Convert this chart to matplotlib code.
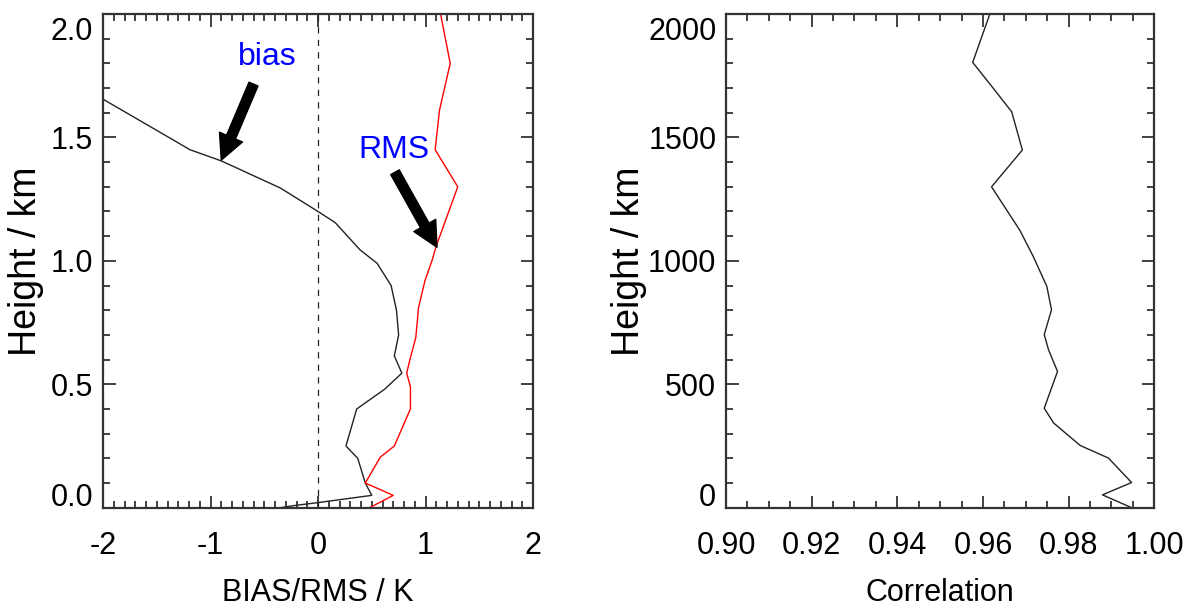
import numpy as np
import matplotlib
matplotlib.use("Agg")
import matplotlib.pyplot as plt
from matplotlib.ticker import MultipleLocator
from matplotlib.transforms import ScaledTranslation

# left panel: bias and RMS profiles (K) vs height (km)
bias_h = [1.655, 1.45, 1.405, 1.295, 1.20, 1.155, 1.045, 0.99, 0.90, 0.80, 0.70,
          0.615, 0.545, 0.48, 0.40, 0.25, 0.20, 0.10, 0.05, 0.02, 0.01, 0.0]
bias_v = [-2.0, -1.19, -0.90, -0.35, 0.0, 0.16, 0.39, 0.55, 0.68, 0.73, 0.75,
          0.71, 0.78, 0.62, 0.36, 0.26, 0.37, 0.44, 0.50, -0.01, -0.20, -0.35]
rms_h = [2.0, 1.80, 1.61, 1.45, 1.30, 1.06, 1.0, 0.92, 0.81, 0.69, 0.60, 0.545,
         0.49, 0.40, 0.25, 0.205, 0.10, 0.05, 0.0]
rms_v = [1.14, 1.23, 1.13, 1.09, 1.30, 1.10, 1.06, 0.995, 0.935, 0.91, 0.855, 0.825,
         0.86, 0.86, 0.71, 0.58, 0.44, 0.70, 0.48]

# right panel: correlation vs height (m)
corr_h = [2000, 1804, 1708, 1604, 1449, 1300, 1124, 1019, 897, 802, 701, 640,
          552, 403, 343, 252, 201, 102, 52, 0]
corr_v = [0.9616, 0.9576, 0.9620, 0.9667, 0.9692, 0.9620, 0.9686, 0.9717, 0.9749,
          0.9760, 0.9743, 0.9753, 0.9774, 0.9743, 0.9765, 0.9827, 0.9893, 0.9947,
          0.9879, 0.9947]

left_xticks = [-2, -1, 0, 1, 2]
left_yticks = [0.0, 0.5, 1.0, 1.5, 2.0]
right_xticks = [0.90, 0.92, 0.94, 0.96, 0.98, 1.00]
right_yticks = [0, 500, 1000, 1500, 2000]

font = ["Liberation Sans", "DejaVu Sans"]
tsize = 22

fig = plt.figure(figsize=(11.92, 6.13), dpi=100)
ax1 = fig.add_axes([103 / 1192, 1 - 507.7 / 613, 430 / 1192, 493.7 / 613])
ax2 = fig.add_axes([726 / 1192, 1 - 507.7 / 613, 428.3 / 1192, 493.7 / 613])


def style(ax, xmin, xmax, xmaj, xmin_step, ymin, ymax, ymaj, ymin_step):
    ax.set_xlim(xmin, xmax)
    ax.set_ylim(ymin, ymax)
    ax.xaxis.set_major_locator(MultipleLocator(xmaj))
    ax.xaxis.set_minor_locator(MultipleLocator(xmin_step))
    ax.yaxis.set_major_locator(MultipleLocator(ymaj))
    ax.yaxis.set_minor_locator(MultipleLocator(ymin_step))
    ax.tick_params(which="both", direction="in", top=True, right=True,
                   width=1.3, color="#333333")
    ax.tick_params(which="major", length=9)
    ax.tick_params(which="minor", length=5)
    ax.tick_params(axis="x", pad=17)
    ax.tick_params(axis="y", pad=7)
    for s in ax.spines.values():
        s.set_linewidth(1.6)
        s.set_color("#333333")


style(ax1, -2, 2, 1, 0.1, 0, 2.0, 0.5, 0.1)
style(ax2, 0.90, 1.00, 0.02, 0.005, 0, 2000, 500, 100)

ax1.set_xticks(left_xticks)
ax1.set_xticklabels(["-2", "-1", "0", "1", "2"])
ax1.set_yticks(left_yticks)
ax1.set_yticklabels(["%.1f" % v for v in left_yticks])
ax2.set_xticks(right_xticks)
ax2.set_xticklabels(["%.2f" % v for v in right_xticks])
ax2.set_yticks(right_yticks)
ax2.set_yticklabels([str(v) for v in right_yticks])

for ax in (ax1, ax2):
    for lab in ax.get_xticklabels() + ax.get_yticklabels():
        lab.set_family(font)
        lab.set_fontsize(tsize)
    # end labels on the y axis sit inside the axis range
    ylabs = ax.get_yticklabels()
    ylabs[0].set_transform(ylabs[0].get_transform() +
                           ScaledTranslation(0, 13.5 / 100, fig.dpi_scale_trans))
    ylabs[-1].set_transform(ylabs[-1].get_transform() +
                            ScaledTranslation(0, -14 / 100, fig.dpi_scale_trans))

ax1.axvline(0, color="#222222", lw=0.9, ls=(0, (5, 5)))
ax1.plot(bias_v, bias_h, color="#222222", lw=1.0)
ax1.plot(rms_v, rms_h, color="red", lw=1.0)
ax2.plot(corr_v, corr_h, color="#222222", lw=1.0)

ax1.set_xlabel("BIAS/RMS / K", family=font, fontsize=tsize, va="center")
ax2.set_xlabel("Correlation", family=font, fontsize=tsize, va="center")
ax1.set_ylabel("Height / km", family=font, fontsize=27, va="baseline")
ax2.set_ylabel("Height / km", family=font, fontsize=27, va="baseline")
ax1.xaxis.set_label_coords(0.5, -0.173)
ax2.xaxis.set_label_coords(0.5, -0.173)
ax1.yaxis.set_label_coords((36 - 103) / 430, 0.50)
ax2.yaxis.set_label_coords((639 - 726) / 428.3, 0.50)

ax1.text(-0.47, 1.826, "bias", color="blue", fontsize=23, family=font,
         ha="center", va="center")
ax1.text(0.71, 1.449, "RMS", color="blue", fontsize=23, family=font,
         ha="center", va="center")
arrow = dict(arrowstyle="simple,head_length=0.9,head_width=0.9,tail_width=0.35",
             color="black", mutation_scale=20, shrinkA=0, shrinkB=0)
ax1.annotate("", xy=(-0.90, 1.408), xytext=(-0.60, 1.716), arrowprops=arrow)
ax1.annotate("", xy=(1.107, 1.055), xytext=(0.716, 1.359), arrowprops=arrow)

fig.savefig("out.png", dpi=100)
